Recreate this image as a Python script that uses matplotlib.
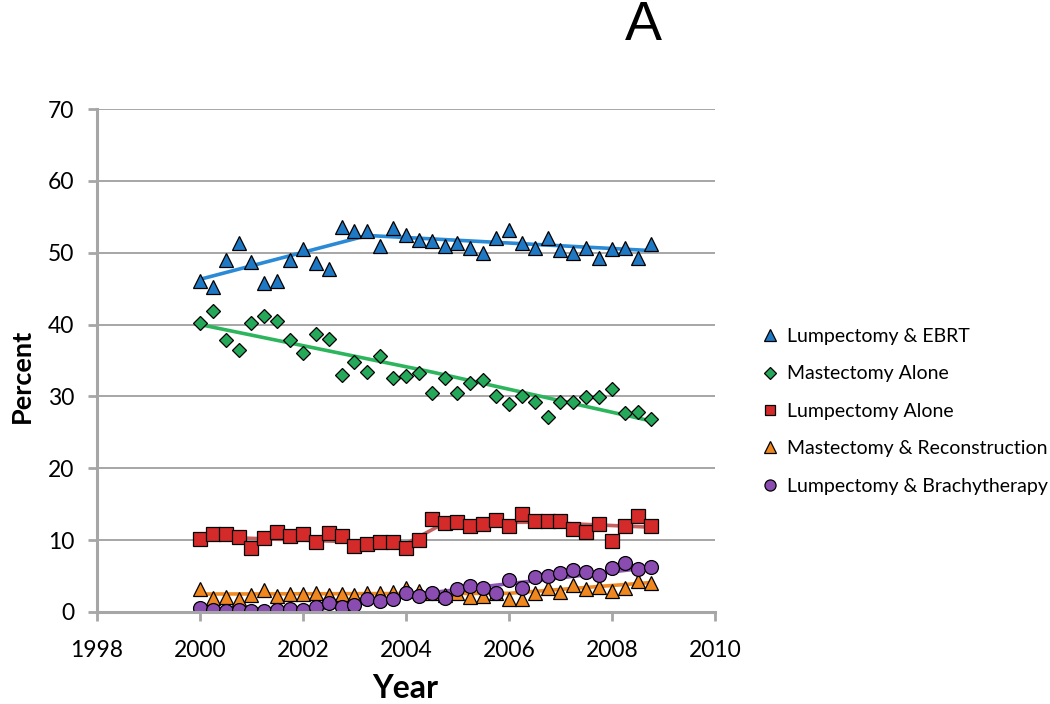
import numpy as np
import matplotlib
matplotlib.use("Agg")
import matplotlib.pyplot as plt
from matplotlib.lines import Line2D

plt.rcParams['font.family'] = ['Lato', 'DejaVu Sans']

years = [2000 + 0.25 * i for i in range(36)]

ebrt = [46.1, 45.2, 49.0, 51.3, 48.7, 45.8, 46.0, 49.0, 50.5, 48.5, 47.8, 53.6,
        53.0, 53.0, 51.0, 53.4, 52.5, 51.8, 51.6, 51.0, 51.3, 50.6, 50.0, 52.0,
        53.2, 51.4, 50.7, 52.0, 50.4, 50.0, 50.7, 49.3, 50.5, 50.7, 49.2, 51.2]
mast = [40.2, 41.9, 37.9, 36.5, 40.2, 41.2, 40.5, 37.9, 36.0, 38.7, 38.0, 33.0,
        34.8, 33.4, 35.6, 32.6, 32.8, 33.3, 30.5, 32.6, 30.5, 31.9, 32.3, 30.0,
        28.9, 30.0, 29.2, 27.2, 29.2, 29.2, 29.9, 29.9, 31.1, 27.7, 27.8, 26.9]
lump = [10.2, 10.9, 10.9, 10.5, 8.9, 10.3, 11.2, 10.6, 10.9, 9.7, 11.0, 10.6,
        9.2, 9.5, 9.7, 9.8, 8.9, 10.0, 13.0, 12.4, 12.5, 12.0, 12.3, 12.8,
        12.0, 13.7, 12.7, 12.7, 12.7, 11.5, 11.1, 12.2, 9.9, 12.0, 13.3, 12.0]
recon = [3.2, 2.0, 2.1, 1.85, 2.3, 3.1, 2.2, 2.5, 2.5, 2.7, 2.3, 2.5,
         2.4, 2.7, 2.7, 2.8, 3.4, 2.9, 2.6, 2.3, 2.7, 2.1, 2.2, 2.6,
         1.75, 1.75, 2.7, 3.3, 2.8, 3.75, 3.25, 3.5, 2.9, 3.3, 4.3, 4.0]
brachy = [0.5, 0.28, 0.14, 0.28, 0.1, 0.1, 0.28, 0.37, 0.28, 0.7, 1.2, 0.74,
          0.97, 1.76, 1.6, 1.8, 2.6, 2.2, 2.6, 2.0, 3.2, 3.6, 3.4, 2.7,
          4.4, 3.3, 4.9, 5.0, 5.4, 5.9, 5.55, 5.2, 6.1, 6.75, 6.0, 6.25]

# joinpoint trend lines (knot years, fitted values)
ebrt_trend_x = [2000, 2003.25, 2008.75]
ebrt_trend_y = [46.3, 52.4, 50.3]
mast_trend_x = [2000, 2004.5, 2008.75]
mast_trend_y = [40.0, 33.4, 26.6]
lump_trend_x = [2000, 2004, 2004.75, 2006.5, 2008.75]
lump_trend_y = [10.5, 9.5, 12.4, 12.5, 11.8]
recon_trend_x = [2000, 2006, 2008.75]
recon_trend_y = [2.5, 2.6, 4.1]
brachy_trend_x = [2000, 2002.25, 2004.25, 2008.75]
brachy_trend_y = [0.2, 0.3, 2.5, 6.2]

labels = ["Lumpectomy & EBRT", "Mastectomy Alone", "Lumpectomy Alone",
          "Mastectomy & Reconstruction", "Lumpectomy & Brachytherapy"]

fig = plt.figure(figsize=(10.5, 7.04), dpi=100)
ax = fig.add_axes([97/1050, 1-612/704, 618/1050, 503/704])

grid_c = '#a6a6a6'
series = [
    (ebrt, ebrt_trend_x, ebrt_trend_y, '^', '#1f78c4', '#2a8ad6', 10),
    (mast, mast_trend_x, mast_trend_y, 'D', '#25a85a', '#2cb55c', 7.5),
    (lump, lump_trend_x, lump_trend_y, 's', '#d42a2a', '#c96060', 9.5),
    (recon, recon_trend_x, recon_trend_y, '^', '#f0861e', '#f28a24', 10),
    (brachy, brachy_trend_x, brachy_trend_y, 'o', '#8a4cb0', '#8e55b8', 10),
]

for vals, tx, ty, m, mc, lc, ms in series:
    ax.plot(tx, ty, color=lc, lw=2.6, zorder=2, solid_capstyle='butt')
for vals, tx, ty, m, mc, lc, ms in series:
    ax.plot(years, vals, linestyle='none', marker=m, markersize=ms,
            markerfacecolor=mc, markeredgecolor='black', markeredgewidth=0.9, zorder=3)

ax.set_xlim(1998, 2010)
ax.set_ylim(0, 70)
ax.set_xticks(range(1998, 2011, 2))
ax.set_yticks(range(0, 71, 10))
ax.yaxis.grid(True, color=grid_c, lw=1.4)
ax.set_axisbelow(True)
for s in ['top', 'right']:
    ax.spines[s].set_visible(False)
for s in ['left', 'bottom']:
    ax.spines[s].set_color(grid_c)
    ax.spines[s].set_linewidth(2.2)
ax.tick_params(axis='both', direction='out', length=6.5, width=2, color=grid_c,
               labelsize=16.5, labelcolor='black', pad=10)
ax.tick_params(axis='x', pad=14)
ax.spines['bottom'].set_zorder(4)

fig.text(22/1050, 1-376/704, 'Percent', rotation=90, ha='center', va='center',
         fontsize=19.5, fontweight='bold')
fig.text(405/1050, 1-689/704, 'Year', ha='center', va='center',
         fontsize=23, fontweight='bold')
fig.text(643/1050, 1-26/704, 'A', ha='center', va='center', fontsize=40,
         family=['Liberation Sans', 'DejaVu Sans'])

handles = [Line2D([], [], linestyle='none', marker=m, markersize=ms*0.8,
                  markerfacecolor=mc, markeredgecolor='black', markeredgewidth=0.9)
           for vals, tx, ty, m, mc, lc, ms in series]
fig.legend(handles, labels, loc='upper left', bbox_to_anchor=(762/1050, 1-328/704),
           frameon=False, fontsize=14, handlelength=0.8, handletextpad=0.5,
           labelspacing=1.05, borderaxespad=0, borderpad=0)

fig.savefig('out.png', dpi=100)
